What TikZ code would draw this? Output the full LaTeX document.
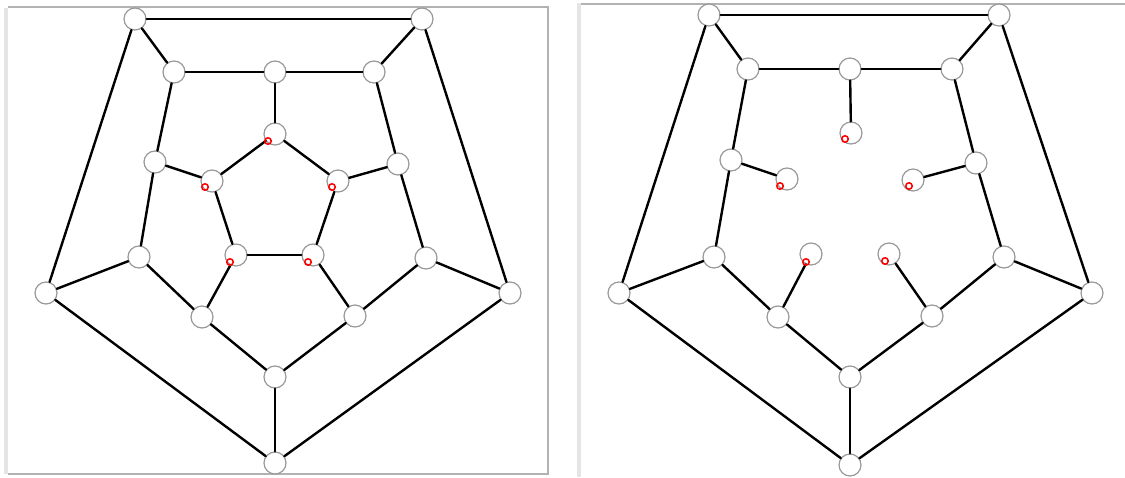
\documentclass[tikz,border=0pt]{standalone}
\usetikzlibrary{positioning}

\begin{document}
\begin{tikzpicture}[
  x=1pt, y=-1pt,
  vtx/.style     = {circle, draw=gray!80, fill=white, line width=1.2pt,
                    minimum size=22pt, inner sep=0pt},
  redring/.style = {circle, draw=red, line width=1.5pt,
                    minimum size=6.5pt, inner sep=0pt},
  edge/.style    = {line width=2.4pt, line cap=round},
  frame/.style   = {draw=gray!60, line width=2.5pt},
  strip/.style   = {draw=gray!20, line width=4pt},
]
\useasboundingbox (0,0) rectangle (1125,477);

% panel frames
\draw[strip] (6,8) -- (6,474);
\draw[frame] (8,7) -- (548,7) -- (548,474) -- (8,474);
\draw[strip] (579,3) -- (579,477);
\draw[frame] (581,4) -- (1125,4);

% left panel: outer pentagon
\node[vtx] (lo1) at (135,19)  {};
\node[vtx] (lo2) at (422,19)  {};
\node[vtx] (lo3) at (510,293) {};
\node[vtx] (lo4) at (275,463) {};
\node[vtx] (lo5) at (46,293)  {};
% left panel: middle ring
\node[vtx] (lm1)  at (174,72)  {};
\node[vtx] (lm2)  at (275,72)  {};
\node[vtx] (lm3)  at (374,72)  {};
\node[vtx] (lm4)  at (398,164) {};
\node[vtx] (lm5)  at (426,258) {};
\node[vtx] (lm6)  at (355,316) {};
\node[vtx] (lm7)  at (275,377) {};
\node[vtx] (lm8)  at (202,317) {};
\node[vtx] (lm9)  at (139,257) {};
\node[vtx] (lm10) at (155,162) {};
% left panel: inner pentagon
\node[vtx] (li1) at (275,134) {};
\node[vtx] (li2) at (338,181) {};
\node[vtx] (li3) at (313,255) {};
\node[vtx] (li4) at (236,255) {};
\node[vtx] (li5) at (212,181) {};

\draw[edge] (lo1) -- (lo2);
\draw[edge] (lo2) -- (lo3);
\draw[edge] (lo3) -- (lo4);
\draw[edge] (lo4) -- (lo5);
\draw[edge] (lo5) -- (lo1);
\draw[edge] (lo1) -- (lm1);
\draw[edge] (lo2) -- (lm3);
\draw[edge] (lo3) -- (lm5);
\draw[edge] (lo4) -- (lm7);
\draw[edge] (lo5) -- (lm9);
\draw[edge] (lm1) -- (lm2);
\draw[edge] (lm2) -- (lm3);
\draw[edge] (lm3) -- (lm4);
\draw[edge] (lm4) -- (lm5);
\draw[edge] (lm5) -- (lm6);
\draw[edge] (lm6) -- (lm7);
\draw[edge] (lm7) -- (lm8);
\draw[edge] (lm8) -- (lm9);
\draw[edge] (lm9) -- (lm10);
\draw[edge] (lm10) -- (lm1);
\draw[edge] (lm2) -- (li1);
\draw[edge] (lm4) -- (li2);
\draw[edge] (lm6) -- (li3);
\draw[edge] (lm8) -- (li4);
\draw[edge] (lm10) -- (li5);
\draw[edge] (li1) -- (li2);
\draw[edge] (li2) -- (li3);
\draw[edge] (li3) -- (li4);
\draw[edge] (li4) -- (li5);
\draw[edge] (li5) -- (li1);

\node[redring] (lr1) at (268,141) {};
\node[redring] (lr2) at (332,187) {};
\node[redring] (lr3) at (308,262) {};
\node[redring] (lr4) at (230,262) {};
\node[redring] (lr5) at (205,187) {};

% right panel: outer pentagon
\node[vtx] (ro1) at (709,15)   {};
\node[vtx] (ro2) at (999,15)   {};
\node[vtx] (ro3) at (1092,293) {};
\node[vtx] (ro4) at (850,465)  {};
\node[vtx] (ro5) at (619,293)  {};
% right panel: middle ring
\node[vtx] (rm1)  at (748,69)  {};
\node[vtx] (rm2)  at (850,69)  {};
\node[vtx] (rm3)  at (952,69)  {};
\node[vtx] (rm4)  at (976,163) {};
\node[vtx] (rm5)  at (1004,257) {};
\node[vtx] (rm6)  at (932,316) {};
\node[vtx] (rm7)  at (850,377) {};
\node[vtx] (rm8)  at (778,317) {};
\node[vtx] (rm9)  at (714,257) {};
\node[vtx] (rm10) at (731,160) {};
% right panel: loose inner vertices
\node[vtx] (ri1) at (851,133) {};
\node[vtx] (ri2) at (913,180) {};
\node[vtx] (ri3) at (889,254) {};
\node[vtx] (ri4) at (811,254) {};
\node[vtx] (ri5) at (787,179) {};

\draw[edge] (ro1) -- (ro2);
\draw[edge] (ro2) -- (ro3);
\draw[edge] (ro3) -- (ro4);
\draw[edge] (ro4) -- (ro5);
\draw[edge] (ro5) -- (ro1);
\draw[edge] (ro1) -- (rm1);
\draw[edge] (ro2) -- (rm3);
\draw[edge] (ro3) -- (rm5);
\draw[edge] (ro4) -- (rm7);
\draw[edge] (ro5) -- (rm9);
\draw[edge] (rm1) -- (rm2);
\draw[edge] (rm2) -- (rm3);
\draw[edge] (rm3) -- (rm4);
\draw[edge] (rm4) -- (rm5);
\draw[edge] (rm5) -- (rm6);
\draw[edge] (rm6) -- (rm7);
\draw[edge] (rm7) -- (rm8);
\draw[edge] (rm8) -- (rm9);
\draw[edge] (rm9) -- (rm10);
\draw[edge] (rm10) -- (rm1);
\draw[edge] (rm2) -- (ri1);
\draw[edge] (rm4) -- (ri2);
\draw[edge] (rm6) -- (ri3);
\draw[edge] (rm8) -- (ri4);
\draw[edge] (rm10) -- (ri5);

\node[redring] (rr1) at (845,139) {};
\node[redring] (rr2) at (909,186) {};
\node[redring] (rr3) at (885,261) {};
\node[redring] (rr4) at (806,262) {};
\node[redring] (rr5) at (780,186) {};
\end{tikzpicture}
\end{document}
